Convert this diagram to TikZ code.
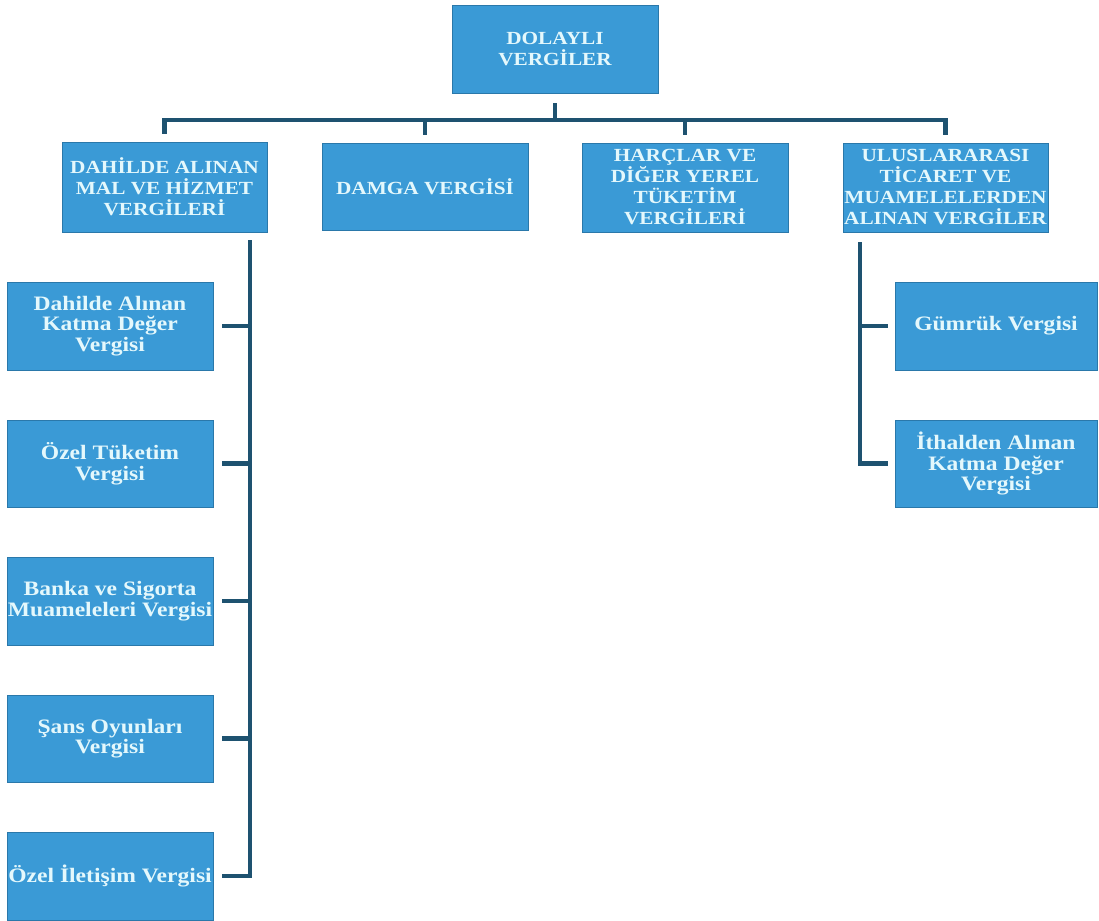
\documentclass[tikz,border=0pt]{standalone}
\usepackage{fontspec}
\setmainfont{Liberation Serif}[FakeStretch=1.15]
\definecolor{boxblue}{HTML}{3A9AD6}
\definecolor{boxedge}{HTML}{2A78AA}
\definecolor{txtc}{HTML}{E4F8FC}
\definecolor{linec}{HTML}{1E5270}
\tikzset{
  box/.style={rectangle, fill=boxblue, draw=boxedge, line width=0.8pt, inner sep=0pt, text=txtc, align=center},
  hdr/.style={box, font=\fontsize{18.5}{21}\selectfont\bfseries},
  leaf/.style={box, font=\fontsize{20.5}{20.5}\selectfont\bfseries},
  conn/.style={draw=linec, line width=4.5pt},
}
\begin{document}
\begin{tikzpicture}[x=1pt,y=-1pt]
\useasboundingbox (0,0) rectangle (1099,920);
\fill[white] (0,0) rectangle (1099,920);

\node[hdr, minimum width=206pt, minimum height=88pt] (top) at (555,49) {DOLAYLI\\VERGİLER};

\node[hdr, minimum width=205pt, minimum height=90pt] (da) at (164.5,187) {DAHİLDE ALINAN\\MAL VE HİZMET\\VERGİLERİ};
\node[hdr, minimum width=206pt, minimum height=87pt] (dv) at (425,186.5) {DAMGA VERGİSİ};
\node[hdr, minimum width=206pt, minimum height=89pt] (hv) at (685,187.5) {HARÇLAR VE\\DİĞER YEREL\\TÜKETİM\\VERGİLERİ};
\node[hdr, minimum width=205pt, minimum height=89pt] (uv) at (945.5,187.5) {ULUSLARARASI\\TİCARET VE\\MUAMELELERDEN\\ALINAN VERGİLER};

\node[leaf, minimum width=206pt, minimum height=88pt] (ka) at (110,326) {Dahilde Alınan\\Katma Değer\\Vergisi};
\node[leaf, minimum width=206pt, minimum height=87pt] (ot) at (110,463.5) {Özel Tüketim\\Vergisi};
\node[leaf, minimum width=206pt, minimum height=88pt] (bs) at (110,601) {Banka ve Sigorta\\Muameleleri Vergisi};
\node[leaf, minimum width=206pt, minimum height=87pt] (so) at (110,738.5) {Şans Oyunları\\Vergisi};
\node[leaf, minimum width=206pt, minimum height=88pt] (oi) at (110,876) {Özel İletişim Vergisi};

\node[leaf, minimum width=202pt, minimum height=88pt] (gv) at (996,326) {Gümrük Vergisi};
\node[leaf, minimum width=202pt, minimum height=87pt] (ik) at (996,463.5) {İthalden Alınan\\Katma Değer\\Vergisi};

\coordinate (bary) at (0,120);
\draw[conn, shorten <=10pt] (top.south) -- (top.south |- bary);
\draw[conn, shorten <=8pt, shorten >=8pt] (da.north) -- (da.north |- bary) -- (uv.north |- bary) -- (uv.north);
\draw[conn, shorten >=8pt] (dv.north |- bary) -- (dv.north);
\draw[conn, shorten >=8pt] (hv.north |- bary) -- (hv.north);

\coordinate (lv) at (250,240);
\draw[conn] (lv) |- ([xshift=9pt]oi.east);
\foreach \n in {ka,ot,bs,so}{
  \draw[conn] (lv |- \n.east) -- ([xshift=9pt]\n.east);
}

\coordinate (rv) at (860,242);
\draw[conn] (rv) |- ([xshift=-7pt]ik.west);
\draw[conn] (rv |- gv.west) -- ([xshift=-7pt]gv.west);
\end{tikzpicture}
\end{document}
